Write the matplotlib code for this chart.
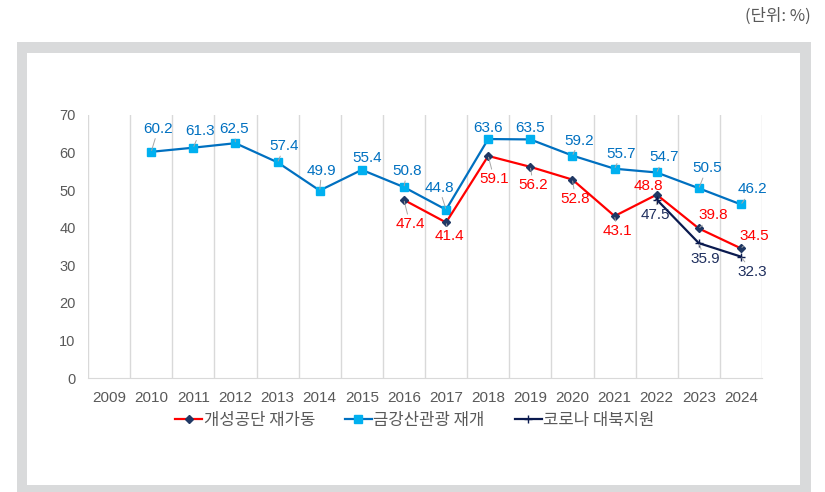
import matplotlib
matplotlib.use("Agg")
import matplotlib.pyplot as plt
from matplotlib.patches import Rectangle

plt.rcParams['font.family'] = ['Liberation Sans', 'Noto Sans CJK KR', 'DejaVu Sans']

YEARS = [str(y) for y in range(2009, 2025)]

# 개성공단 재가동 (2016-2024)
KAESONG_YEARS = list(range(2016, 2025))
KAESONG = [47.4, 41.4, 59.1, 56.2, 52.8, 43.1, 48.8, 39.8, 34.5]
# 금강산관광 재개 (2010-2024)
KUMGANG_YEARS = list(range(2010, 2025))
KUMGANG = [60.2, 61.3, 62.5, 57.4, 49.9, 55.4, 50.8, 44.8, 63.6, 63.5,
           59.2, 55.7, 54.7, 50.5, 46.2]
# 코로나 대북지원 (2022-2024)
COVID_YEARS = [2022, 2023, 2024]
COVID = [47.5, 35.9, 32.3]

# label offsets in pixels (dx, dy)
KUMGANG_OFF = [(7, 23), (7, 17), (-1, 14), (7, 16), (2, 20), (5, 12), (3, 16),
               (-7, 22), (0, 11), (0, 11), (7, 15), (7, 15), (7, 15), (8, 20), (11, 15)]
KAESONG_OFF = [(6, -24), (3, -14), (6, -23), (3, -18), (3, -19), (3, -15),
               (-8, 9), (14, 13), (13, 12)]
COVID_OFF = [(-1, -15), (6, -16), (11, -15)]

C_RED = "#FF0000"
C_BLUE = "#0070C0"
C_CYAN = "#00B0F0"
C_NAVY = "#1F2F5E"
C_DIAM = "#203864"
GRAY_TXT = "#595959"

W, H = 825, 492
fig = plt.figure(figsize=(W / 100, H / 100), dpi=100)

# gray frame + white inner panel
fig.patches.append(Rectangle((17 / W, 0), 794 / W, 450 / H, transform=fig.transFigure,
                             facecolor="#D9DADB", edgecolor="none", zorder=-2))
fig.patches.append(Rectangle((27 / W, 7 / H), 773 / W, 432 / H, transform=fig.transFigure,
                             facecolor="white", edgecolor="none", zorder=-1))

ax = fig.add_axes([88 / W, (H - 378) / H, (762 - 88) / W, (378 - 115) / H])
ax.patch.set_alpha(0)


def xpos(years):
    return [y - 2009 for y in years]


ax.plot(xpos(KUMGANG_YEARS), KUMGANG, color=C_BLUE, lw=1.6, marker="s",
        markersize=6, markerfacecolor=C_CYAN, markeredgecolor=C_CYAN,
        label="금강산관광 재개", zorder=3)
ax.plot(xpos(KAESONG_YEARS), KAESONG, color=C_RED, lw=1.6, marker="D",
        markersize=4.5, markerfacecolor=C_DIAM, markeredgecolor=C_DIAM,
        label="개성공단 재가동", zorder=4)
ax.plot(xpos(COVID_YEARS), COVID, color="#0A1A4F", lw=1.6, marker="+",
        markersize=6, markeredgecolor="#0A1A4F", label="코로나 대북지원", zorder=5)


def labels(years, vals, offs, color):
    for x, v, (dx, dy) in zip(xpos(years), vals, offs):
        dist = (dx ** 2 + dy ** 2) ** 0.5
        arrow = None
        if dist > 14:
            arrow = dict(arrowstyle="-", color="#A6A6A6", lw=0.7,
                         shrinkA=0, shrinkB=1)
        ax.annotate(f"{v:.1f}", (x, v), xytext=(dx, dy), textcoords="offset pixels",
                    ha="center", va="center", fontsize=11, color=color,
                    arrowprops=arrow, zorder=6)


labels(KUMGANG_YEARS, KUMGANG, KUMGANG_OFF, C_BLUE)
labels(KAESONG_YEARS, KAESONG, KAESONG_OFF, C_RED)
labels(COVID_YEARS, COVID, COVID_OFF, C_NAVY)

ax.set_xlim(-0.5, 15.5)
ax.set_ylim(0, 70)
ax.set_xticks(range(len(YEARS)))
ax.set_xticklabels(YEARS)
ax.set_xticks([i - 0.5 for i in range(len(YEARS) + 1)], minor=True)
ax.set_yticks(range(0, 71, 10))
ax.grid(which="minor", axis="x", color="#D9D9D9", lw=1)
ax.tick_params(which="both", length=0)
ax.tick_params(axis="x", labelsize=11, colors=GRAY_TXT, pad=9)
ax.tick_params(axis="y", labelsize=10.5, colors=GRAY_TXT, pad=9)
for s in ["top", "right", "left"]:
    ax.spines[s].set_visible(False)
ax.spines["bottom"].set_color("#D9D9D9")

handles, labs = ax.get_legend_handles_labels()
order = [1, 0, 2]
fig.legend([handles[i] for i in order], [labs[i] for i in order],
           loc="center", bbox_to_anchor=(415 / W, (H - 420) / H), ncol=3,
           frameon=False, handlelength=1.6, handletextpad=0.1,
           columnspacing=1.8, labelcolor=GRAY_TXT,
           prop={"family": ["Noto Sans CJK KR"], "size": 12})

fig.text(811 / W, (H - 16) / H, "(단위: %)", ha="right", va="center",
         fontsize=12, color=GRAY_TXT, family=["Noto Sans CJK KR"])

fig.savefig("out.png", dpi=100)
